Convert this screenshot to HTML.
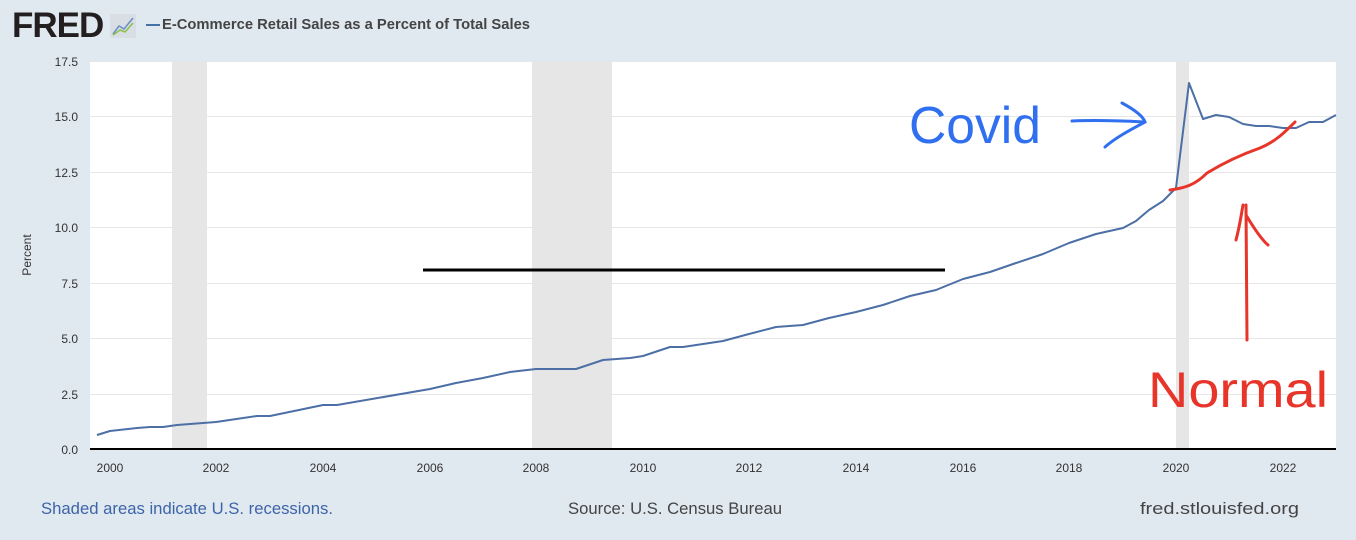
<!DOCTYPE html>
<html><head><style>
body{margin:0;width:1356px;height:540px;background:#e1e9f0;font-family:"Liberation Sans",sans-serif;overflow:hidden;position:relative}
.t{position:absolute;white-space:nowrap}
</style></head><body>
<div class="t" style="left:12px;top:6px;font-size:35px;font-weight:bold;color:#231f20;letter-spacing:-1px">FRED</div>
<svg class="t" style="left:110px;top:14px" width="26" height="24"><rect width="26" height="24" fill="#d8dee3"/><polyline points="3,20 9,12 14,15 23,4" fill="none" stroke="#6a8fc5" stroke-width="1.5"/><polyline points="3,21 10,16 15,18 23,9" fill="none" stroke="#8dc04a" stroke-width="1.5"/></svg>
<div class="t" style="left:146px;top:24px;width:14px;height:2px;background:#4572a7"></div>
<svg class="t" style="left:0;top:0" width="1356" height="540">
<text x="162" y="29" font-size="14.5" font-weight="bold" fill="#444" textLength="368" lengthAdjust="spacingAndGlyphs">E-Commerce Retail Sales as a Percent of Total Sales</text>
<rect x="90" y="61" width="1246" height="388" fill="#fff"/>
<g fill="#e6e6e6"><rect x="172" y="61" width="35" height="388"/><rect x="532" y="61" width="80" height="388"/><rect x="1176" y="61" width="13" height="388"/></g>
<g stroke="#e6e6e6" stroke-width="1">
<line x1="90" x2="1336" y1="61.5" y2="61.5"/><line x1="90" x2="1336" y1="116.5" y2="116.5"/><line x1="90" x2="1336" y1="172.5" y2="172.5"/><line x1="90" x2="1336" y1="227.5" y2="227.5"/><line x1="90" x2="1336" y1="283.5" y2="283.5"/><line x1="90" x2="1336" y1="338.5" y2="338.5"/><line x1="90" x2="1336" y1="394.5" y2="394.5"/></g>
<line x1="90" x2="1336" y1="449" y2="449" stroke="#000" stroke-width="2"/>
<g font-size="12" fill="#333" text-anchor="end"><text x="78" y="66">17.5</text><text x="78" y="121">15.0</text><text x="78" y="177">12.5</text><text x="78" y="232">10.0</text><text x="78" y="288">7.5</text><text x="78" y="343">5.0</text><text x="78" y="399">2.5</text><text x="78" y="454">0.0</text></g>
<g font-size="12" fill="#333" text-anchor="middle"><text x="110" y="472">2000</text><text x="216" y="472">2002</text><text x="323" y="472">2004</text><text x="430" y="472">2006</text><text x="536" y="472">2008</text><text x="643" y="472">2010</text><text x="749" y="472">2012</text><text x="856" y="472">2014</text><text x="963" y="472">2016</text><text x="1069" y="472">2018</text><text x="1176" y="472">2020</text><text x="1283" y="472">2022</text></g>
<text x="31" y="255" font-size="12" fill="#333" text-anchor="middle" transform="rotate(-90 31 255)">Percent</text>
<polyline fill="none" stroke="#4c6fa5" stroke-width="2" stroke-linejoin="round" points="97,435 110,431 137,428 150,427 163,427 177,425 216,422 257,416 270,416 323,405 337,405 430,389 456,383 483,378 510,372 536,369 576,369 603,360 630,358 643,356 670,347 683,347 723,341 749,334 776,327 803,325 829,318 856,312 883,305 910,296 936,290 963,279 990,272 1016,263 1043,254 1069,243 1096,234 1123,228 1136,221 1149,210 1163,201 1176,188 1189,83 1203,119 1216,115 1229,117 1243,124 1256,126 1269,126 1283,128 1296,128 1309,122 1323,122 1336,115"/>
<line x1="423" x2="945" y1="270" y2="270" stroke="#000" stroke-width="3"/>
<g fill="none" stroke="#e8352a" stroke-width="3" stroke-linecap="round">
<path d="M1170,190 C1185,188 1195,185 1207,173 C1225,162 1240,155 1260,148 C1275,142 1285,132 1295,122"/>
<path d="M1247,340 L1246,205 M1236,240 C1240,225 1242,210 1243,205 M1246,215 C1255,230 1262,240 1268,245"/>
</g>
<g fill="none" stroke="#2f6ff0" stroke-width="3" stroke-linecap="round"><path d="M1072,121 C1095,120 1125,121 1145,122 M1122,103 C1135,110 1143,116 1145,122 C1130,130 1115,138 1105,147"/></g>
<text x="909" y="143" font-size="52" fill="#2f6ff0" textLength="132" lengthAdjust="spacingAndGlyphs">Covid</text>
<text x="1148" y="407" font-size="50" fill="#e8352a" textLength="180" lengthAdjust="spacingAndGlyphs">Normal</text>
<g font-size="16.5"><text x="41" y="514" fill="#3d64a8" textLength="292" lengthAdjust="spacingAndGlyphs">Shaded areas indicate U.S. recessions.</text><text x="568" y="514" fill="#444" textLength="214" lengthAdjust="spacingAndGlyphs">Source: U.S. Census Bureau</text><text x="1140" y="514" fill="#444" textLength="159" lengthAdjust="spacingAndGlyphs">fred.stlouisfed.org</text></g>
</svg>
</body></html>
